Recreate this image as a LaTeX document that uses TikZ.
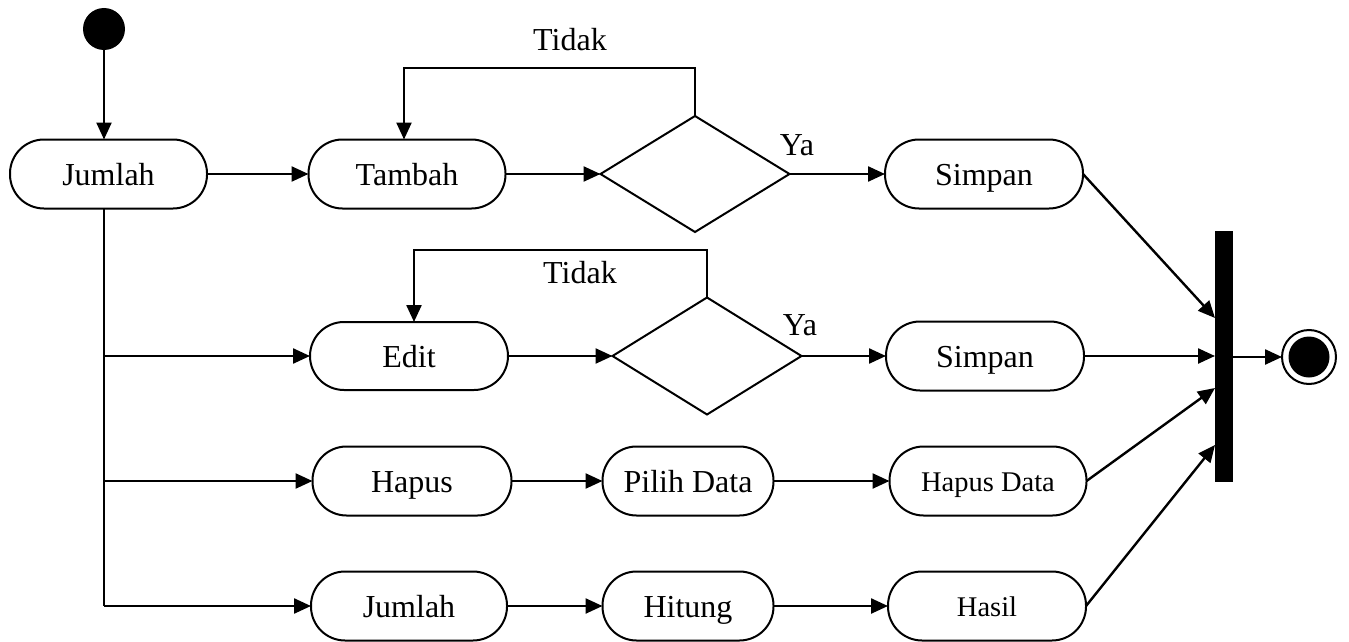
\documentclass[tikz,border=0pt]{standalone}
\usepackage{fontspec}
\setmainfont{Liberation Serif}
\usetikzlibrary{arrows.meta,shapes.geometric}
\begin{document}
\begin{tikzpicture}[x=1pt,y=-1pt,
  act/.style={draw,line width=2pt,rectangle,rounded corners=34pt,minimum height=69pt,inner sep=0pt,outer sep=0pt,text height=22pt,text depth=0pt,font=\fontsize{32}{38}\selectfont},
  actsmall/.style={act,text height=20pt,font=\fontsize{28.5}{34}\selectfont},
  dec/.style={draw,line width=2pt,diamond,minimum width=189pt,minimum height=116pt,inner sep=0pt,outer sep=0pt},
  lbl/.style={anchor=base,inner sep=0pt,font=\fontsize{32}{38}\selectfont},
  arr/.style={line width=2.4pt,-{Triangle[length=17pt,width=15pt]}},
  ln/.style={line width=2.4pt}]
\useasboundingbox (0,0) rectangle (1349,642);
\fill[white] (0,0) rectangle (1349,642);
% start
\node[circle,fill=black,minimum size=42pt,inner sep=0pt,outer sep=0pt] (start) at (104,29) {};
% row 1
\node[act,minimum width=197pt] (j1) at (108.5,174) {Jumlah};
\node[act,minimum width=197pt] (tambah) at (407,174) {Tambah};
\node[dec] (d1) at (695,174) {};
\node[act,minimum width=198pt] (simpan1) at (984,174) {Simpan};
% row 2
\node[act,minimum width=198pt,minimum height=68pt] (edit) at (409,356) {Edit};
\node[dec,minimum height=117pt] (d2) at (707,356) {};
\node[act,minimum width=198pt] (simpan2) at (985,356) {Simpan};
% row 3
\node[act,minimum width=199pt] (hapus) at (412,481) {Hapus};
\node[act,minimum width=171pt] (pilih) at (688,481) {Pilih Data};
\node[actsmall,minimum width=197pt] (hapusdata) at (988,481) {Hapus Data};
% row 4
\node[act,minimum width=196pt] (j2) at (409,606) {Jumlah};
\node[act,minimum width=171pt] (hitung) at (688,606) {Hitung};
\node[actsmall,minimum width=198pt] (hasil) at (987,606) {Hasil};
% join bar and end
\node[rectangle,fill=black,minimum width=18pt,minimum height=251pt,inner sep=0pt,outer sep=0pt] (bar) at (1224,356.5) {};
\node[circle,draw,line width=2pt,minimum size=54pt,inner sep=0pt,outer sep=0pt] (endc) at (1309,357) {};
\node[circle,fill=black,minimum size=41pt,inner sep=0pt] (endin) at (endc.center) {};
% coordinates
\coordinate (t1) at (695,68);
\coordinate (t2) at (707,250);
\coordinate (b1) at (1215,318);
\coordinate (b2) at (1215,356);
\coordinate (b3) at (1215,388);
\coordinate (b4) at (1215,445);
% connectors
\draw[arr] (start.south) -- (start.south |- j1.north);
\draw[arr] (j1.east) -- (tambah.west);
\draw[arr] (tambah.east) -- (d1.west);
\draw[arr] (d1.east) -- (simpan1.west);
\draw[arr] (d1.north) -- (t1) -| (404,0 |- tambah.north);
\draw[ln] (start.south |- j1.south) -- (start.south |- j2.west);
\draw[arr] (start.south |- edit.west) -- (edit.west);
\draw[arr] (start.south |- hapus.west) -- (hapus.west);
\draw[arr] (start.south |- j2.west) -- (j2.west);
\draw[arr] (edit.east) -- (d2.west);
\draw[arr] (d2.east) -- (simpan2.west);
\draw[arr] (d2.north) -- (t2) -| (414,0 |- edit.north);
\draw[arr] (hapus.east) -- (pilih.west);
\draw[arr] (pilih.east) -- (hapusdata.west);
\draw[arr] (j2.east) -- (hitung.west);
\draw[arr] (hitung.east) -- (hasil.west);
\draw[arr] (simpan1.east) -- (b1);
\draw[arr] (simpan2.east) -- (b2);
\draw[arr] (hapusdata.east) -- (b3);
\draw[arr] (hasil.east) -- (b4);
\draw[arr] (bar.east |- endc.west) -- (endc.west);
% labels
\node[lbl] (tidak1) at (570,51) {Tidak};
\node[lbl] (tidak2) at (580,283) {Tidak};
\node[lbl] (ya1) at (797,155) {Ya};
\node[lbl] (ya2) at (800,335) {Ya};
\end{tikzpicture}
\end{document}
